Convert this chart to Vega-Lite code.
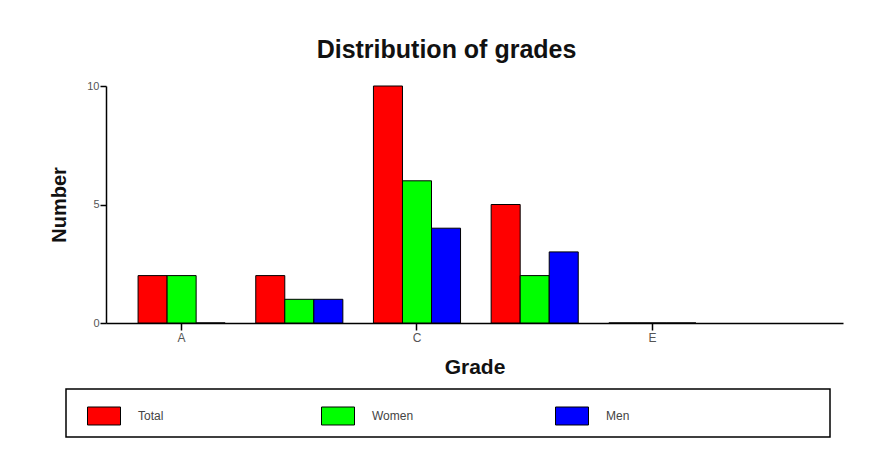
{
  "$schema": "https://vega.github.io/schema/vega-lite/v6.json",
  "width": 737,
  "height": 237,
  "autosize": {"type": "none"},
  "padding": {"left": 106, "top": 86, "right": 33, "bottom": 153},
  "background": "white",
  "title": {
    "text": "Distribution of grades",
    "font": "Liberation Sans",
    "fontSize": 25,
    "fontWeight": "bold",
    "color": "#111111",
    "anchor": "middle",
    "frame": "group",
    "baseline": "alphabetic",
    "offset": -3,
    "dx": -28
  },
  "data": {
    "values": [
      {"grade": "A", "group": "Total", "n": 2},
      {"grade": "A", "group": "Women", "n": 2},
      {"grade": "A", "group": "Men", "n": 0},
      {"grade": "B", "group": "Total", "n": 2},
      {"grade": "B", "group": "Women", "n": 1},
      {"grade": "B", "group": "Men", "n": 1},
      {"grade": "C", "group": "Total", "n": 10},
      {"grade": "C", "group": "Women", "n": 6},
      {"grade": "C", "group": "Men", "n": 4},
      {"grade": "D", "group": "Total", "n": 5},
      {"grade": "D", "group": "Women", "n": 2},
      {"grade": "D", "group": "Men", "n": 3},
      {"grade": "E", "group": "Total", "n": 0},
      {"grade": "E", "group": "Women", "n": 0},
      {"grade": "E", "group": "Men", "n": 0}
    ]
  },
  "mark": {"type": "bar", "stroke": "black", "strokeWidth": 1, "opacity": 1},
  "encoding": {
    "x": {
      "field": "grade",
      "type": "nominal",
      "scale": {"type": "band", "domain": ["A", "B", "C", "D", "E"], "paddingInner": 0.26, "paddingOuter": 0.761, "align": 0.179},
      "axis": {
        "title": "Grade",
        "values": ["A", "C", "E"],
        "labelAngle": 0,
        "labelFont": "Liberation Sans",
        "labelFontSize": 12,
        "labelColor": "#555555",
        "labelPadding": 2,
        "tickSize": 7,
        "tickColor": "black",
        "tickWidth": 1.5,
        "domainColor": "black",
        "domainWidth": 1.5,
        "titleFont": "Liberation Sans",
        "titleFontSize": 21,
        "titleFontWeight": "bold",
        "titleColor": "#111111",
        "titleBaseline": "alphabetic",
        "titleY": 50,
        "grid": false
      }
    },
    "xOffset": {
      "field": "group",
      "type": "nominal",
      "scale": {"domain": ["Total", "Women", "Men"], "paddingInner": 0, "paddingOuter": 0}
    },
    "y": {
      "field": "n",
      "type": "quantitative",
      "scale": {"domain": [0, 10], "nice": false},
      "axis": {
        "title": "Number",
        "values": [0, 5, 10],
        "labelFont": "Liberation Sans",
        "labelFontSize": 11,
        "labelColor": "#555555",
        "labelPadding": 1,
        "tickSize": 6,
        "tickColor": "black",
        "tickWidth": 1.5,
        "domainColor": "black",
        "domainWidth": 1.5,
        "titleFont": "Liberation Sans",
        "titleFontSize": 20,
        "titleFontWeight": "bold",
        "titleColor": "#111111",
        "titleAngle": 270,
        "titleBaseline": "alphabetic",
        "titleX": -41,
        "titleY": 118.5,
        "grid": false
      }
    },
    "color": {
      "field": "group",
      "type": "nominal",
      "scale": {"domain": ["Total", "Women", "Men"], "range": ["#ff0000", "#00ff00", "#0000ff"]},
      "legend": {
        "orient": "none",
        "legendX": -40,
        "legendY": 303,
        "direction": "horizontal",
        "columns": 3,
        "gridAlign": "all",
        "columnPadding": 130,
        "padding": 10,
        "strokeColor": "black",
        "fillColor": "white",
        "title": " ",
        "titleOrient": "right",
        "titlePadding": 191,
        "titleFontSize": 11,
        "symbolType": "M-1,-0.545H1V0.545H-1Z",
        "symbolSize": 1089,
        "symbolStrokeColor": "black",
        "symbolStrokeWidth": 1,
        "symbolOpacity": 1,
        "symbolOffset": 11,
        "labelOffset": 17,
        "labelFont": "Liberation Sans",
        "labelFontSize": 12,
        "labelColor": "#444444",
        "encode": {"legend": {"update": {"strokeWidth": {"value": 1.5}}}}
      }
    }
  },
  "config": {
    "view": {"stroke": null},
    "axis": {"grid": false}
  }
}
